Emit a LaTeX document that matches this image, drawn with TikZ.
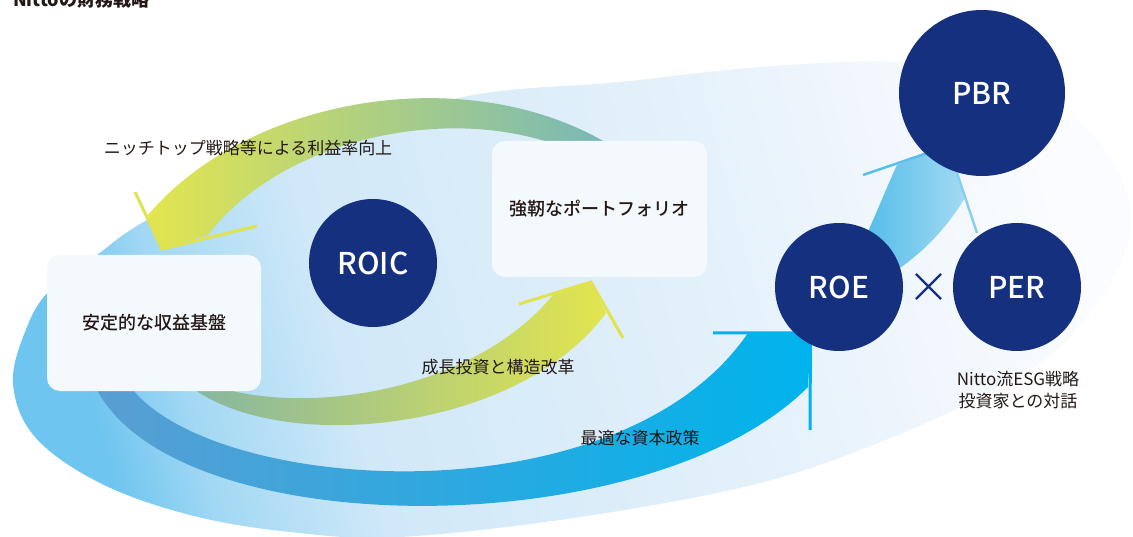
\documentclass[tikz,border=0pt]{standalone}
\usepackage{fontspec}
\newfontfamily\jp{Noto Sans CJK JP}
\newfontfamily\jpm{Noto Sans CJK JP Medium}
\usetikzlibrary{shapes.misc}
\definecolor{navy}{HTML}{14307E}
\definecolor{ink}{HTML}{231815}
\definecolor{boxc}{HTML}{F4F9FE}
\definecolor{bg0}{HTML}{6EC5EF}
\definecolor{bg1}{HTML}{A2D8F4}
\definecolor{bg2}{HTML}{D0E8F8}
\definecolor{bg3}{HTML}{E2F0FA}
\definecolor{bg4}{HTML}{F3F8FD}
\definecolor{bg5}{HTML}{FAFCFF}
\definecolor{bandL}{HTML}{5A9ED2}
\definecolor{bandR}{HTML}{00B3EC}
\definecolor{ylw}{HTML}{E2E54F}
\definecolor{tealc}{HTML}{76B8B8}
\definecolor{grnc}{HTML}{86B6A2}
\definecolor{ybar}{HTML}{E0E24E}
\definecolor{pbL}{HTML}{55BDE9}
\definecolor{pbR}{HTML}{A3DAF2}
\definecolor{pbarL}{HTML}{59BFE9}
\definecolor{pbarR}{HTML}{86CFF0}
\pgfdeclarehorizontalshading{bgshade}{100bp}{color(0bp)=(bg0); color(25bp)=(bg0); color(29.8bp)=(bg1); color(37.8bp)=(bg2); color(55.7bp)=(bg3); color(69bp)=(bg4); color(75bp)=(bg5); color(100bp)=(bg5)}
\tikzset{
  lbl/.style={font=\jp\fontsize{17}{22}\selectfont, text=ink, inner sep=0pt},
  boxnode/.style={fill=boxc, rounded corners=13pt, text=ink, inner sep=0pt,
     font=\jpm\fontsize{18}{22}\selectfont},
  circnode/.style={circle, fill=navy, text=white, inner sep=0pt,
     font=\jpm\fontsize{30}{30}\selectfont},
  ybarb/.style={draw=ybar, line width=3pt, line join=miter, line cap=butt},
  bbarb/.style={draw=bandR, line width=3pt, line join=miter, line cap=butt},
}
\begin{document}
\begin{tikzpicture}[x=1pt,y=-1pt]
\useasboundingbox (0,0) rectangle (1133,537);
% background
\shade[shading=bgshade, shading angle=15] plot[smooth cycle, tension=0.6] coordinates {
 (13,383) (27,327) (50,290) (97,255) (147,220) (280,150) (463,97) (620,82)
 (760,67) (900,62) (1010,80) (1073,117) (1115,165) (1131,222) (1112,280)
 (1060,347) (993,390) (893,437) (760,483) (580,517) (400,537) (290,532)
 (190,515) (100,483) (35,437)};
% big blue arrow
\shade[left color=bandL, right color=bandR]
 (86,372) -- (97,390) .. controls (180,545) and (650,545) .. (808,387)
 -- (811,333) -- (748,333) .. controls (620,520) and (220,495) .. (133,390)
 -- (122,374) -- cycle;
\draw[bbarb] (713,333) -- (810.5,333) -- (810,430);
% lower green-yellow arrow
\shade[left color=grnc, right color=ylw]
 (188,378) -- (195,390) .. controls (290,455) and (520,430) .. (606,313)
 -- (591,282) -- (553,295) .. controls (470,395) and (300,415) .. (215,386)
 -- (215,378) -- cycle;
\draw[ybarb] (519,304) -- (591,282) -- (623,338);
% upper yellow-teal arrow
\shade[left color=ylw, right color=tealc]
 (148,215) .. controls (250,95) and (470,60) .. (610,145)
 -- (570,150) .. controls (450,100) and (280,140) .. (208,235)
 -- (162,249) -- cycle;
\draw[ybarb] (135,192) -- (162,249) -- (257,226);
% PBR arrow
\shade[left color=pbL, right color=pbR]
 (866,236) .. controls (880,205) and (889,182) .. (897,165) -- (948,146)
 -- (965,198) .. controls (945,230) and (925,250) .. (900,268) -- cycle;
\draw[draw=pbarL, line width=2.5pt] (863,175) -- (948,146);
\draw[draw=pbarR, line width=2.5pt] (948,146) -- (977,233);
% boxes
\node[boxnode, minimum width=214pt, minimum height=136pt] (base) at (154,323) {安定的な収益基盤};
\node[boxnode, minimum width=215pt, minimum height=136pt] (port) at (599.5,209) {強靭なポートフォリオ};
% circles
\node[circnode, minimum size=128pt] (roic) at (373,263) {ROIC};
\node[circnode, minimum size=128pt] (roe) at (839,287) {ROE};
\node[circnode, minimum size=128pt] (per) at (1017,287) {PER};
\node[circnode, minimum size=166pt] (pbr) at (982,93) {PBR};
\node[cross out, draw=navy, line width=2.2pt, minimum size=23pt, inner sep=0pt] (times) at (928.5,286.5) {};
% labels
\node[lbl] (l1) at (248,148) {ニッチトップ戦略等による利益率向上};
\node[lbl] (l2) at (498,367) {成長投資と構造改革};
\node[lbl] (l3) at (640,438) {最適な資本政策};
\node[lbl, align=center] (l4) at (1018,390) {Nitto流ESG戦略\\投資家との対話};
\node[anchor=base west, inner sep=0pt, text=ink, font=\jp\bfseries\fontsize{18}{20}\selectfont] (title) at (13,7) {Nittoの財務戦略};
\end{tikzpicture}
\end{document}
